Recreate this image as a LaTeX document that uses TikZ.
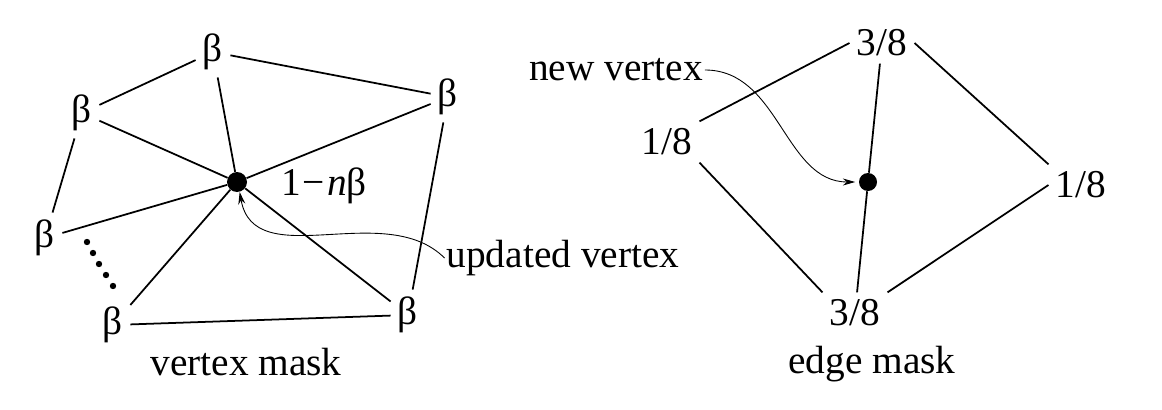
\documentclass[tikz,border=0pt]{standalone}
\usepackage{fontspec}
\setmainfont{Liberation Serif}
\usetikzlibrary{arrows.meta}
\tikzset{
  wt/.style={inner sep=4pt},
  lbl/.style={inner sep=1pt},
  edg/.style={line width=1pt},
  ptr/.style={line width=0.5pt, -{Stealth[length=7pt,width=4pt]}},
  vdot/.style={circle, fill, inner sep=0pt, minimum size=#1},
}

\begin{document}
\begin{tikzpicture}[x=0.02cm, y=-0.02cm, font=\fontsize{22.4}{26}\selectfont]
        \useasboundingbox (0,0) rectangle (1162,409);
        % vertex mask
        \begin{scope}
            \node[vdot=0.4cm] (c) at (237,182) {};
            \node[wt] (bt)  at (213,52)  {β};
            \node[wt] (bul) at (82,113)  {β};
            \node[wt] (br)  at (448,97)  {β};
            \node[wt] (bl)  at (45,238)  {β};
            \node[wt] (bbl) at (113,325) {β};
            \node[wt] (bbr) at (408,315) {β};
            \node (w) at (324,186) {1\kern0.05em−\kern0.05em\textit{n}β};
            % spokes
            \foreach \v in {bt,bul,br,bl,bbl,bbr}
                \draw[edg] (c) -- (\v);
            % ring
            \draw[edg] (bl) -- (bul) -- (bt) -- (br) -- (bbr) -- (bbl);
            \foreach \p in {(87,242),(93,253),(99,264),(106,275),(113,286)}
                \fill \p circle (3.2);
            \node[lbl] (upd) at (563,258) {updated vertex};
            \draw[ptr] (upd.west) to[out=135, in=-80] (c.-75);
            \node (vm) at (246,362) {vertex mask};
        \end{scope}
        % edge mask
        \begin{scope}
            \node[vdot=0.36cm] (d) at (868,182) {};
            \node[wt] (et) at (882,43)   {3/8};
            \node[wt] (el) at (667,142)  {1/8};
            \node[wt] (er) at (1081,185) {1/8};
            \node[wt] (eb) at (855,313)  {3/8};
            \draw[edg] (el.north east) -- (et.west);
            \draw[edg] (et.east) -- (er.north west);
            \draw[edg] (er.west) -- (eb.north east);
            \draw[edg] (eb.north west) -- (el.south east);
            \draw[edg] (et) -- (d) -- (eb);
            \node[lbl] (nv) at (616,70) {new vertex};
            \draw[ptr, shorten >=2pt] (nv.east) to[out=0, in=180] (d.west);
            \node (em) at (872,364) {edge mask};
        \end{scope}
    \end{tikzpicture}
\end{document}
